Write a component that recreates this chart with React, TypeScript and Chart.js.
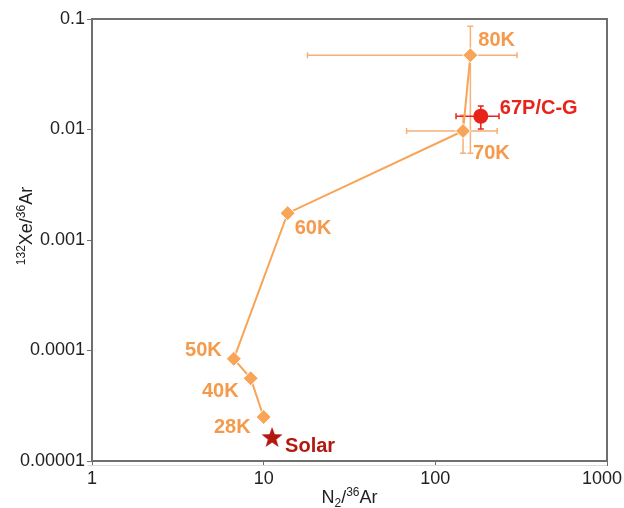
import React, { useEffect, useRef } from "react";
import { Chart, registerables } from "chart.js";

Chart.register(...registerables);

// ---- data ----
const xTicks = [1, 10, 100, 1000];
const xTickLabels = ["1", "10", "100", "1000"];
const yTicks = [0.00001, 0.0001, 0.001, 0.01, 0.1];
const yTickLabels = ["0.00001", "0.0001", "0.001", "0.01", "0.1"];

const tempLabels = ["28K", "40K", "50K", "60K", "70K", "80K"];
const tempN2Ar = [10, 8.4, 6.7, 13.8, 145, 160];
const tempXeAr = [2.5e-5, 5.6e-5, 8.4e-5, 1.75e-3, 0.0097, 0.047];
const tempN2ArLow = [null, null, null, null, 68, 18];
const tempN2ArHigh = [null, null, null, null, 229, 299];
const tempXeArLow = [null, null, null, null, 0.0061, 0.0061];
const tempXeArHigh = [null, null, null, null, 0.0135, 0.086];

const cometLabel = "67P/C-G";
const cometN2Ar = [184];
const cometXeAr = [0.0132];
const cometN2ArLow = [132];
const cometN2ArHigh = [235];
const cometXeArLow = [0.0101];
const cometXeArHigh = [0.0163];

const solarLabel = "Solar";
const solarN2Ar = [11.2];
const solarXeAr = [1.65e-5];

// ---- styles ----
const FONT = '"Liberation Sans", Arial, Helvetica, sans-serif';
const ORANGE = "#F8A459";
const ORANGE_TEXT = "#F59A4C";
const ORANGE_ERR = "#F6B07A";
const RED = "#E8231A";
const DARK_RED = "#B3180F";

// label offsets [dx, dy, align]
const tempLabelOffsets: [number, number, CanvasTextAlign][] = [
  [-13, 10, "right"],
  [-12, 13, "right"],
  [-12, -8, "right"],
  [7, 15, "left"],
  [10, 23, "left"],
  [8, -15, "left"],
];
const cometOffset: [number, number, CanvasTextAlign] = [19, -8, "left"];
const solarOffset: [number, number, CanvasTextAlign] = [13, 10, "left"];

function makeStar(): HTMLCanvasElement {
  const c = document.createElement("canvas");
  const size = 26;
  c.width = size;
  c.height = size;
  const ctx = c.getContext("2d")!;
  const cx = size / 2;
  const cy = size / 2 + 1;
  const outer = 11;
  const inner = 4.5;
  ctx.beginPath();
  for (let i = 0; i < 10; i++) {
    const r = i % 2 === 0 ? outer : inner;
    const a = -Math.PI / 2 + (i * Math.PI) / 5;
    const px = cx + r * Math.cos(a);
    const py = cy + r * Math.sin(a);
    if (i === 0) ctx.moveTo(px, py);
    else ctx.lineTo(px, py);
  }
  ctx.closePath();
  ctx.fillStyle = DARK_RED;
  ctx.fill();
  return c;
}

type Seg = { t: string; k: "n" | "sub" | "sup" };

function drawRich(ctx: CanvasRenderingContext2D, segs: Seg[], size: number) {
  const small = Math.round(size * 0.68);
  const widths = segs.map((s) => {
    ctx.font = `${s.k === "n" ? size : small}px ${FONT}`;
    return ctx.measureText(s.t).width;
  });
  const total = widths.reduce((a, b) => a + b, 0);
  let x = -total / 2;
  ctx.textBaseline = "alphabetic";
  ctx.textAlign = "left";
  segs.forEach((s, i) => {
    ctx.font = `${s.k === "n" ? size : small}px ${FONT}`;
    let dy = 0;
    if (s.k === "sup") dy = -size * 0.4;
    if (s.k === "sub") dy = size * 0.2;
    ctx.fillText(s.t, x, dy);
    x += widths[i];
  });
}

function errPlugin() {
  return {
    id: "errbars",
    beforeDatasetsDraw(chart: any) {
      const { ctx, scales } = chart;
      const xs = scales.x;
      const ys = scales.y;
      const cap = 3;
      const drawSet = (
        xv: number[],
        yv: number[],
        xl: (number | null)[],
        xh: (number | null)[],
        yl: (number | null)[],
        yh: (number | null)[],
        color: string
      ) => {
        ctx.save();
        ctx.strokeStyle = color;
        ctx.lineWidth = 1.5;
        for (let i = 0; i < xv.length; i++) {
          const px = xs.getPixelForValue(xv[i]);
          const py = ys.getPixelForValue(yv[i]);
          if (xl[i] != null && xh[i] != null) {
            const a = xs.getPixelForValue(xl[i]);
            const b = xs.getPixelForValue(xh[i]);
            ctx.beginPath();
            ctx.moveTo(a, py);
            ctx.lineTo(b, py);
            ctx.moveTo(a, py - cap);
            ctx.lineTo(a, py + cap);
            ctx.moveTo(b, py - cap);
            ctx.lineTo(b, py + cap);
            ctx.stroke();
          }
          if (yl[i] != null && yh[i] != null) {
            const a = ys.getPixelForValue(yl[i]);
            const b = ys.getPixelForValue(yh[i]);
            ctx.beginPath();
            ctx.moveTo(px, a);
            ctx.lineTo(px, b);
            ctx.moveTo(px - cap, a);
            ctx.lineTo(px + cap, a);
            ctx.moveTo(px - cap, b);
            ctx.lineTo(px + cap, b);
            ctx.stroke();
          }
        }
        ctx.restore();
      };
      drawSet(tempN2Ar, tempXeAr, tempN2ArLow, tempN2ArHigh, tempXeArLow, tempXeArHigh, ORANGE_ERR);
      drawSet(cometN2Ar, cometXeAr, cometN2ArLow, cometN2ArHigh, cometXeArLow, cometXeArHigh, RED);
    },
    afterDraw(chart: any) {
      const { ctx, scales, chartArea, width } = chart;
      const xs = scales.x;
      const ys = scales.y;
      ctx.save();
      // frame
      ctx.strokeStyle = "#6f6f6f";
      ctx.lineWidth = 2;
      ctx.strokeRect(chartArea.left, chartArea.top, chartArea.right - chartArea.left, chartArea.bottom - chartArea.top);
      ctx.strokeStyle = "#dcdcdc";
      ctx.lineWidth = 1;
      ctx.beginPath();
      ctx.moveTo(chartArea.left - 4, chartArea.bottom + 4.5);
      ctx.lineTo(chartArea.right, chartArea.bottom + 4.5);
      ctx.stroke();

      // x tick labels (kept inside the canvas)
      ctx.font = `18px ${FONT}`;
      ctx.fillStyle = "#222";
      ctx.textAlign = "center";
      ctx.textBaseline = "top";
      xTicks.forEach((v, i) => {
        const w = ctx.measureText(xTickLabels[i]).width;
        let px = xs.getPixelForValue(v);
        px = Math.min(px, width - w / 2 - 2);
        ctx.fillText(xTickLabels[i], px, chartArea.bottom + 9);
      });

      // point labels
      ctx.font = `bold 20px ${FONT}`;
      ctx.textBaseline = "middle";
      const lbl = (x: number, y: number, text: string, off: [number, number, CanvasTextAlign], color: string) => {
        ctx.fillStyle = color;
        ctx.textAlign = off[2];
        ctx.fillText(text, xs.getPixelForValue(x) + off[0], ys.getPixelForValue(y) + off[1]);
      };
      tempLabels.forEach((t, i) => lbl(tempN2Ar[i], tempXeAr[i], t, tempLabelOffsets[i], ORANGE_TEXT));
      lbl(cometN2Ar[0], cometXeAr[0], cometLabel, cometOffset, RED);
      lbl(solarN2Ar[0], solarXeAr[0], solarLabel, solarOffset, DARK_RED);

      // axis titles
      ctx.fillStyle = "#222";
      ctx.save();
      ctx.translate((chartArea.left + chartArea.right) / 2, 503);
      drawRich(
        ctx,
        [
          { t: "N", k: "n" },
          { t: "2", k: "sub" },
          { t: "/", k: "n" },
          { t: "36", k: "sup" },
          { t: "Ar", k: "n" },
        ],
        18
      );
      ctx.restore();
      ctx.save();
      ctx.translate(32, 226);
      ctx.rotate(-Math.PI / 2);
      drawRich(
        ctx,
        [
          { t: "132", k: "sup" },
          { t: "Xe/", k: "n" },
          { t: "36", k: "sup" },
          { t: "Ar", k: "n" },
        ],
        18
      );
      ctx.restore();
      ctx.restore();
    },
  };
}

export default function App() {
  const ref = useRef<HTMLCanvasElement | null>(null);
  useEffect(() => {
    if (!ref.current) return;
    const star = makeStar();
    const chart = new Chart(ref.current, {
      type: "scatter",
      data: {
        datasets: [
          {
            label: "temps",
            data: tempN2Ar.map((x, i) => ({ x, y: tempXeAr[i] })),
            showLine: true,
            borderColor: ORANGE,
            borderWidth: 2,
            backgroundColor: ORANGE,
            pointStyle: "rectRot",
            pointRadius: 7.5,
            pointBorderColor: "#ffffff",
            pointBorderWidth: 1,
            order: 2,
          },
          {
            label: cometLabel,
            data: cometN2Ar.map((x, i) => ({ x, y: cometXeAr[i] })),
            backgroundColor: RED,
            borderColor: RED,
            pointStyle: "circle",
            pointRadius: 7.5,
            pointBorderWidth: 0,
            order: 1,
          },
          {
            label: solarLabel,
            data: solarN2Ar.map((x, i) => ({ x, y: solarXeAr[i] })),
            pointStyle: star as any,
            pointRadius: 12,
            order: 1,
          },
        ],
      },
      options: {
        responsive: false,
        animation: false,
        layout: { padding: { top: 19, right: 17, left: 0, bottom: 0 } },
        plugins: { legend: { display: false }, tooltip: { enabled: false } },
        scales: {
          x: {
            type: "logarithmic",
            min: 1,
            max: 1000,
            afterBuildTicks: (s: any) => {
              s.ticks = xTicks.map((v) => ({ value: v, major: true }));
            },
            afterFit: (s: any) => {
              s.height = 47;
              s.paddingLeft = 0;
              s.paddingRight = 0;
            },
            ticks: { display: false, autoSkip: false, maxRotation: 0 },
            grid: { display: true, drawOnChartArea: false, drawTicks: true, tickLength: 5, color: "#6f6f6f" },
            border: { display: true, color: "#6f6f6f", width: 2 },
            title: { display: false },
          },
          y: {
            type: "logarithmic",
            min: 0.00001,
            max: 0.1,
            afterBuildTicks: (s: any) => {
              s.ticks = yTicks.map((v) => ({ value: v, major: true }));
            },
            afterFit: (s: any) => {
              s.width = 92;
              s.paddingTop = 0;
              s.paddingBottom = 0;
            },
            ticks: {
              autoSkip: false,
              padding: 2,
              color: "#222",
              font: { family: FONT, size: 18 },
              callback: (v: any) => {
                const i = yTicks.findIndex((t) => Math.abs(t - Number(v)) < 1e-6 * t);
                return i >= 0 ? yTickLabels[i] : "";
              },
            },
            grid: { display: true, drawOnChartArea: false, drawTicks: true, tickLength: 5, color: "#6f6f6f" },
            border: { display: true, color: "#6f6f6f", width: 2 },
            title: { display: false },
          },
        },
      },
      plugins: [errPlugin()],
    });
    return () => chart.destroy();
  }, []);
  return (
    <div style={{ position: "fixed", left: 0, top: 0, width: 624, height: 508, background: "#fff" }}>
      <canvas ref={ref} width={624} height={508} style={{ display: "block" }} />
    </div>
  );
}
